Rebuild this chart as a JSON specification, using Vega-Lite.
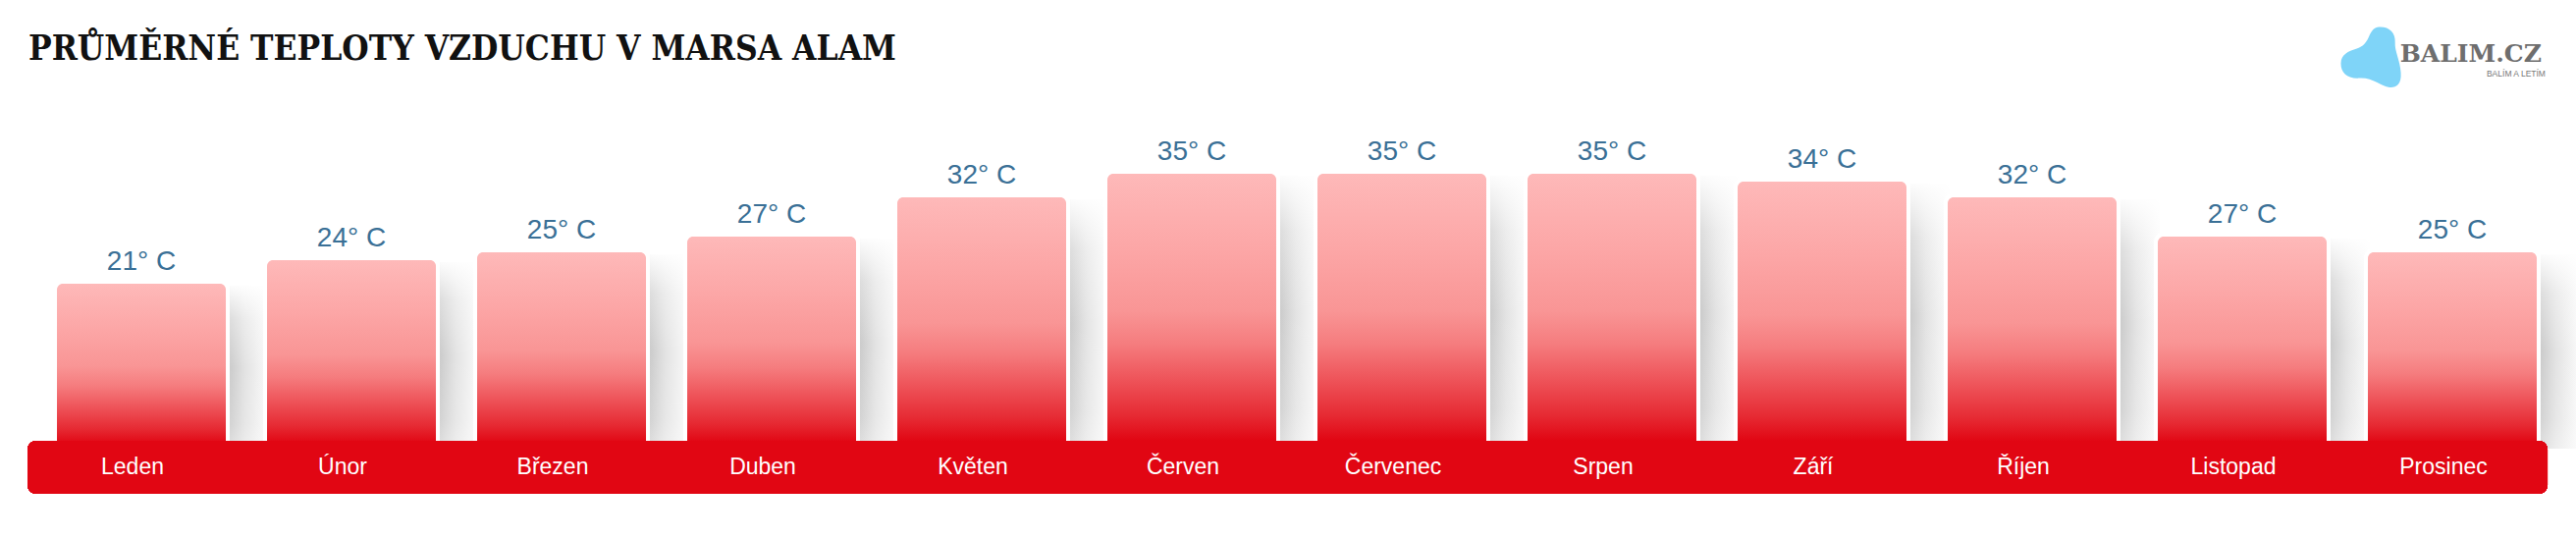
{
  "$schema": "https://vega.github.io/schema/vega-lite/v6.json",
  "width": 2624,
  "height": 548,
  "autosize": {"type": "none"},
  "padding": 0,
  "background": "#ffffff",
  "config": {"view": {"stroke": null}},
  "data": {"values": [
    {"month": "Leden", "temp": 21},
    {"month": "Únor", "temp": 24},
    {"month": "Březen", "temp": 25},
    {"month": "Duben", "temp": 27},
    {"month": "Květen", "temp": 32},
    {"month": "Červen", "temp": 35},
    {"month": "Červenec", "temp": 35},
    {"month": "Srpen", "temp": 35},
    {"month": "Září", "temp": 34},
    {"month": "Říjen", "temp": 32},
    {"month": "Listopad", "temp": 27},
    {"month": "Prosinec", "temp": 25}
  ]},
  "layer": [
    {
      "mark": {"type": "bar", "width": 40, "xOffset": 110, "yOffset": 2,
        "color": {"gradient": "linear", "x1": 0, "y1": 0, "x2": 1, "y2": 0,
          "stops": [{"offset": 0, "color": "#cbcbcb"}, {"offset": 0.4, "color": "#e3e3e3"}, {"offset": 1, "color": "#fbfbfb"}]}},
      "encoding": {
        "x": {"field": "month", "type": "nominal", "axis": null,
          "scale": {"type": "band", "domain": ["Leden","Únor","Březen","Duben","Květen","Červen","Červenec","Srpen","Září","Říjen","Listopad","Prosinec"], "paddingInner": 0.19626, "paddingOuter": 0.229, "align": 0.592, "round": false}},
        "y": {"field": "temp", "type": "quantitative", "axis": null,
          "scale": {"domain": [-11.375, 57.125], "zero": false, "nice": false}},
        "y2": {"datum": 0}
      }
    },
    {
      "mark": {"type": "bar", "width": 40, "xOffset": 110, "yOffset": 2,
        "color": {"gradient": "linear", "x1": 0, "y1": 0, "x2": 0, "y2": 1,
          "stops": [{"offset": 0, "color": "rgba(255,255,255,0.95)"}, {"offset": 0.2, "color": "rgba(255,255,255,0.35)"}, {"offset": 0.5, "color": "rgba(255,255,255,0)"}, {"offset": 0.85, "color": "rgba(255,255,255,0.15)"}, {"offset": 1, "color": "rgba(255,255,255,0.4)"}]}},
      "encoding": {
        "x": {"field": "month", "type": "nominal"},
        "y": {"field": "temp", "type": "quantitative"},
        "y2": {"datum": 0}
      }
    },
    {
      "mark": {"type": "bar", "width": 180, "yOffset": -4, "color": "#ffffff", "cornerRadiusTopLeft": 9, "cornerRadiusTopRight": 9},
      "encoding": {
        "x": {"field": "month", "type": "nominal"},
        "y": {"field": "temp", "type": "quantitative"},
        "y2": {"datum": 0}
      }
    },
    {
      "mark": {"type": "bar", "cornerRadiusTopLeft": 6, "cornerRadiusTopRight": 6,
        "color": {"gradient": "linear", "x1": 0, "y1": 0, "x2": 0, "y2": 1,
          "stops": [
            {"offset": 0, "color": "#feb9b9"},
            {"offset": 0.28, "color": "#fca6a6"},
            {"offset": 0.5, "color": "#f99595"},
            {"offset": 0.62, "color": "#f57c7e"},
            {"offset": 0.75, "color": "#ee5359"},
            {"offset": 0.88, "color": "#e62a33"},
            {"offset": 0.97, "color": "#e10613"}
          ]}},
      "encoding": {
        "x": {"field": "month", "type": "nominal"},
        "y": {"field": "temp", "type": "quantitative"},
        "y2": {"datum": 0}
      }
    },
    {
      "mark": {"type": "rect", "color": "#e10613", "cornerRadius": 9},
      "encoding": {
        "x": {"datum": "Leden", "type": "nominal", "bandPosition": -0.1744},
        "x2": {"datum": "Prosinec", "bandPosition": 1.064},
        "y": {"datum": 1, "type": "quantitative"},
        "y2": {"datum": -5.75}
      }
    },
    {
      "mark": {"type": "text", "color": "#ffffff", "font": "Liberation Sans", "fontSize": 23, "baseline": "alphabetic", "align": "center", "dx": -9},
      "encoding": {
        "x": {"field": "month", "type": "nominal"},
        "y": {"datum": -3.25, "type": "quantitative"},
        "text": {"field": "month"}
      }
    },
    {
      "mark": {"type": "text", "color": "#3a7096", "font": "Liberation Sans", "fontSize": 28, "baseline": "alphabetic", "align": "center", "dy": -14},
      "encoding": {
        "x": {"field": "month", "type": "nominal"},
        "y": {"field": "temp", "type": "quantitative"},
        "text": {"field": "label"}
      },
      "transform": [{"calculate": "datum.temp + '° C'", "as": "label"}]
    },
    {
      "data": {"values": [{"t": "PRŮMĚRNÉ TEPLOTY VZDUCHU V MARSA ALAM"}]},
      "mark": {"type": "text", "color": "#111111", "font": "DejaVu Serif Condensed, DejaVu Serif", "fontWeight": "bold", "fontSize": 35, "baseline": "alphabetic", "align": "left"},
      "encoding": {
        "x": {"datum": "Leden", "type": "nominal", "bandPosition": -0.1686},
        "y": {"datum": 49.5, "type": "quantitative"},
        "text": {"field": "t"}
      }
    },
    {
      "data": {"values": [{"t": "logo"}]},
      "mark": {"type": "point", "filled": true, "opacity": 1, "color": "#7fd4f8", "size": 3844,
        "shape": "M0.3,-1 C0.6,-1 0.8,-0.8 0.78,-0.5 C0.76,-0.2 0.95,0.1 0.97,0.5 C1,0.9 0.8,1 0.6,0.98 C0.3,0.95 0.05,0.65 -0.4,0.68 C-0.8,0.7 -1,0.5 -1,0.2 C-1,-0.1 -0.75,-0.2 -0.5,-0.28 C-0.25,-0.36 -0.15,-0.5 -0.05,-0.75 C0.05,-0.95 0.15,-1 0.3,-1 Z"},
      "encoding": {
        "x": {"datum": "Prosinec", "type": "nominal", "bandPosition": 0.0203},
        "y": {"datum": 49.81, "type": "quantitative"}
      }
    },
    {
      "data": {"values": [{"t": "BALIM.CZ"}]},
      "mark": {"type": "text", "color": "#6e6e6e", "font": "DejaVu Serif", "fontWeight": "bold", "fontSize": 25, "baseline": "alphabetic", "align": "right"},
      "encoding": {
        "x": {"datum": "Prosinec", "type": "nominal", "bandPosition": 1.029},
        "y": {"datum": 49.29, "type": "quantitative"},
        "text": {"field": "t"}
      }
    },
    {
      "data": {"values": [{"t": "BALÍM A LETÍM"}]},
      "mark": {"type": "text", "color": "#777777", "font": "Liberation Sans", "fontSize": 8.5, "baseline": "alphabetic", "align": "right"},
      "encoding": {
        "x": {"datum": "Prosinec", "type": "nominal", "bandPosition": 1.052},
        "y": {"datum": 47.41, "type": "quantitative"},
        "text": {"field": "t"}
      }
    }
  ]
}
